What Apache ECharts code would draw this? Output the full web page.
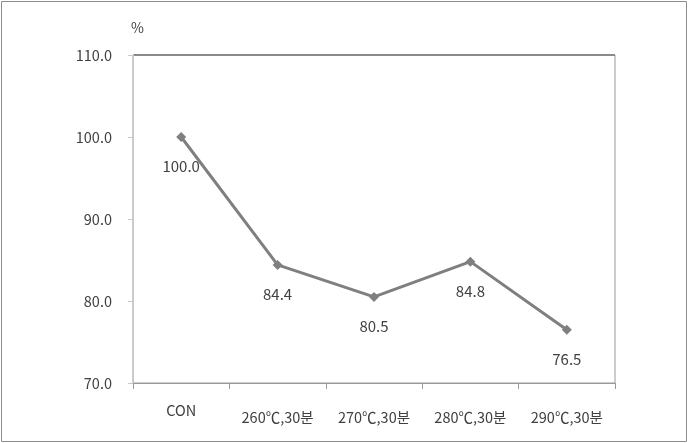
<!DOCTYPE html>
<html>
<head>
<meta charset="utf-8">
<script src="https://cdn.jsdelivr.net/npm/echarts@6/dist/echarts.min.js"></script>
<style>
  html, body { margin: 0; padding: 0; background: #fff; }
  #main { width: 688px; height: 443px; }
</style>
</head>
<body>
<div id="main"></div>
<script>
var categories = ['CON', '260℃,30분', '270℃,30분', '280℃,30분', '290℃,30분'];
var values = [100.0, 84.4, 80.5, 84.8, 76.5];
var yTicks = [70, 80, 90, 100, 110];

var font = '"Noto Sans CJK KR", "Noto Sans", sans-serif';

var chart = echarts.init(document.getElementById('main'));
chart.setOption({
    animation: false,
    backgroundColor: '#fff',
    textStyle: { fontFamily: font },
    graphic: [{
        type: 'rect',
        shape: { x: 1.5, y: 1.5, width: 685, height: 440 },
        style: { fill: 'none', stroke: '#8c8c8c', lineWidth: 1 }
    }, {
        // darker top edge of the plot frame
        type: 'line',
        shape: { x1: 133, y1: 55, x2: 615, y2: 55 },
        style: { stroke: '#8a8a8a', lineWidth: 2 }
    }],
    grid: {
        left: 133, right: 73, top: 55, bottom: 60,
        show: true, borderColor: '#9a9a9a', borderWidth: 1
    },
    xAxis: {
        type: 'category',
        data: categories,
        boundaryGap: true,
        axisLine: { lineStyle: { color: '#9a9a9a' } },
        axisTick: { show: true, interval: 0, length: 6, lineStyle: { color: '#9a9a9a' } },
        axisLabel: {
            interval: 0,
            hideOverlap: false,
            color: '#404040', fontSize: 14, margin: 19, fontFamily: font,
            formatter: function (v, i) {
                return i === 0 ? '{t|' + v + '}' : '{s| }\n{t|' + v + '}';
            },
            rich: {
                s: { fontSize: 6, lineHeight: 7 },
                t: { fontSize: 14.5, lineHeight: 17, color: '#404040', fontFamily: font }
            }
        }
    },
    yAxis: {
        type: 'value',
        name: '%',
        nameLocation: 'end',
        nameGap: 20,
        nameTextStyle: { color: '#404040', fontSize: 14, align: 'left', padding: [0, 0, 0, -2] },
        min: yTicks[0],
        max: yTicks[yTicks.length - 1],
        interval: 10,
        splitLine: { show: false },
        axisLine: { show: true, lineStyle: { color: '#c8c8c8' } },
        axisTick: { show: true, length: 5, lineStyle: { color: '#c8c8c8' } },
        axisLabel: {
            color: '#404040', fontSize: 14.5, margin: 21, fontFamily: font,
            formatter: function (v) { return v.toFixed(1); }
        }
    },
    series: [{
        type: 'line',
        data: values,
        symbol: 'diamond',
        symbolSize: 10,
        itemStyle: { color: '#7f7f7f' },
        lineStyle: { color: '#7f7f7f', width: 3 },
        label: {
            show: true,
            position: 'bottom',
            distance: 17,
            color: '#404040',
            fontSize: 15,
            fontFamily: font,
            formatter: function (p) { return p.value.toFixed(1); }
        }
    }]
});
</script>
</body>
</html>
